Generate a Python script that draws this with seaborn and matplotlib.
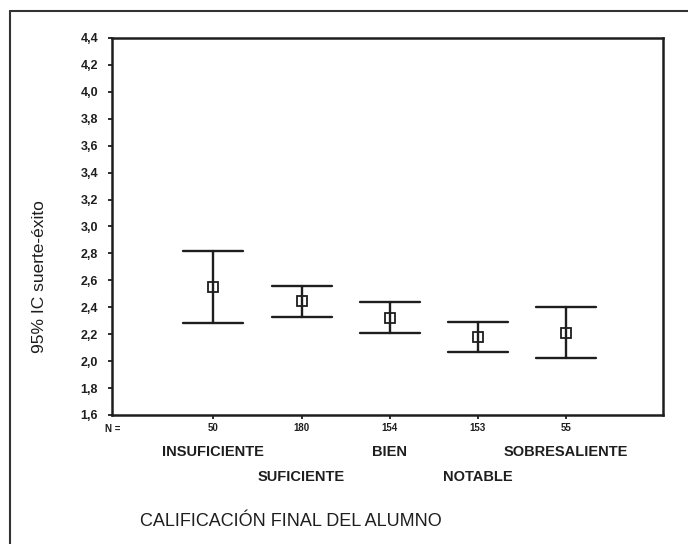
import matplotlib
matplotlib.use("Agg")
import matplotlib.pyplot as plt
from matplotlib.lines import Line2D
import matplotlib.transforms as mtransforms
import numpy as np
import pandas as pd
import seaborn as sns

# Grade categories, group sizes and 95% confidence intervals of "suerte-éxito"
categorias = ["INSUFICIENTE", "SUFICIENTE", "BIEN", "NOTABLE", "SOBRESALIENTE"]
n_casos = [50, 180, 154, 153, 55]
media = [2.55, 2.45, 2.32, 2.18, 2.21]
ic_inf = [2.28, 2.33, 2.21, 2.07, 2.02]
ic_sup = [2.82, 2.56, 2.44, 2.29, 2.40]
y_ticks = [1.6, 1.8, 2.0, 2.2, 2.4, 2.6, 2.8, 3.0, 3.2, 3.4, 3.6, 3.8, 4.0, 4.2, 4.4]

# Long table: each grade holds its lower bound, mean and upper bound.
# Median of the three is the mean; the full 0-100 percentile span is the CI.
filas = []
for c, lo, m, hi in zip(categorias, ic_inf, media, ic_sup):
    for v in (lo, m, hi):
        filas.append({"cat": c, "valor": v})
df = pd.DataFrame(filas)

sns.set_theme(style="white")
plt.rcParams["font.family"] = ["Liberation Sans", "DejaVu Sans"]

ink = "#1e1e1e"
fig = plt.figure(figsize=(6.88, 5.44), dpi=100)
ax = fig.add_axes([112 / 688, 1 - 415 / 544, (663 - 112) / 688, (415 - 38) / 544])

sns.pointplot(
    data=df, x="cat", y="valor", order=categorias,
    estimator="median", errorbar=("pi", 100),
    linestyle="none", marker="s", color=ink,
    capsize=0.68, err_kws={"linewidth": 1.7, "color": ink},
    markersize=6.5, markerfacecolor="white", markeredgewidth=1.3,
    markeredgecolor=ink, ax=ax,
)

ax.set_xlim(-1.15, 5.1)
ax.set_ylim(1.6, 4.4)
ax.set_yticks(y_ticks)
ax.set_yticklabels([f"{t:.1f}".replace(".", ",") for t in y_ticks],
                   fontsize=9, fontweight="bold", color=ink)
ax.set_xticks(range(len(categorias)))
ax.set_xticklabels([str(n) for n in n_casos], fontsize=7,
                   fontweight="bold", color=ink)
ax.tick_params(axis="y", direction="out", length=3, width=1.3,
               color=ink, pad=7, left=True)
ax.tick_params(axis="x", direction="out", length=3, width=1.3,
               color=ink, pad=3, bottom=True)
ax.set_xlabel("")
ax.set_ylabel("")

for s in ax.spines.values():
    s.set_visible(True)
    s.set_color(ink)
    s.set_linewidth(1.8)

fig.text(40 / 688, 1 - 277 / 544, "95% IC suerte-éxito", rotation=90,
         fontsize=12.5, color=ink, ha="center", va="center")

# "N =" row and staggered category names below the axis
trans = mtransforms.blended_transform_factory(ax.transData, fig.transFigure)
fig.text(105 / 688, 1 - 429 / 544, "N =", fontsize=7, fontweight="bold",
         color=ink, ha="left", va="center")
for i, c in enumerate(categorias):
    y_row = 452 if i % 2 == 0 else 477
    ax.text(i, 1 - y_row / 544, c, transform=trans, ha="center", va="center",
            fontsize=10.5, fontweight="bold", color=ink)

fig.text(140 / 688, 1 - 522 / 544, "CALIFICACIÓN FINAL DEL ALUMNO",
         fontsize=13, color=ink, ha="left", va="center")

# Outer frame around the figure
fig.add_artist(Line2D([10 / 688, 10 / 688], [0, 1 - 11 / 544],
                      transform=fig.transFigure, color="#333333", lw=1.5))
fig.add_artist(Line2D([10 / 688, 1], [1 - 11 / 544, 1 - 11 / 544],
                      transform=fig.transFigure, color="#333333", lw=1.5))

fig.savefig("out.png", dpi=100, facecolor="white")
